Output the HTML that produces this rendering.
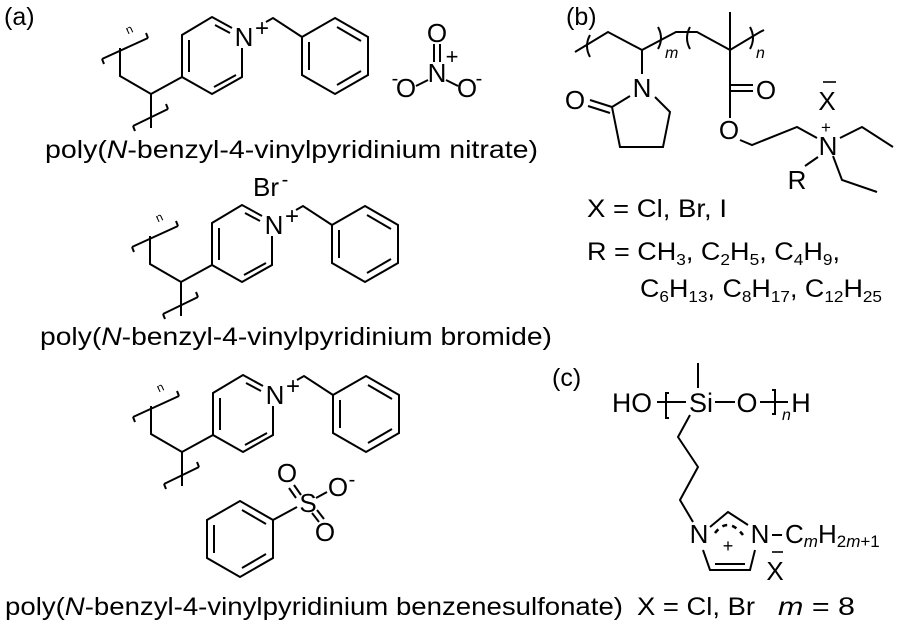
<!DOCTYPE html>
<html><head><meta charset="utf-8"><style>
html,body{margin:0;padding:0;background:#fff;}
svg{display:block;font-family:"Liberation Sans",Arial,sans-serif;}
</style></head><body>
<svg width="900" height="624" viewBox="0 0 900 624" xmlns="http://www.w3.org/2000/svg">
<defs>
<g id="pvp">
 <g fill="none" stroke="#000" stroke-width="2">
  <polyline points="232,28 212,17 182,35 182,77 212,94 242,77 242,48"/>
  <line x1="215" y1="25" x2="230" y2="33"/>
  <line x1="189" y1="40" x2="189" y2="72"/>
  <line x1="214" y1="87" x2="236" y2="75"/>
  <polyline points="182,77 151,94 120,76 120,48"/>
  <line x1="102" y1="59" x2="148" y2="38"/>
  <line x1="102" y1="59" x2="104" y2="64"/>
  <line x1="148" y1="38" x2="146" y2="33"/>
  <line x1="151" y1="94" x2="151" y2="128"/>
  <line x1="133" y1="126" x2="168" y2="109"/>
  <line x1="133" y1="126" x2="135" y2="131"/>
  <line x1="168" y1="109" x2="166" y2="104"/>
  <polyline points="266,22 273,18 302,37"/>
  <polygon points="335,18 368,37 368,75 335,94 302,75 302,37"/>
  <line x1="337" y1="27" x2="361" y2="41"/>
  <line x1="309" y1="42" x2="309" y2="70"/>
  <line x1="337" y1="85" x2="361" y2="71"/>
 </g>
 <text x="244" y="46" font-size="26" text-anchor="middle">N</text>
 <text x="262" y="36" font-size="24" text-anchor="middle">+</text>
 <text x="126" y="34" font-size="12" transform="rotate(-25 128 30)">n</text>
</g>
</defs>

<text x="4" y="25" font-size="25">(a)</text>
<use href="#pvp"/>
<g stroke="#000" stroke-width="2">
 <line x1="434" y1="44" x2="434" y2="62"/>
 <line x1="440" y1="44" x2="440" y2="62"/>
 <line x1="428" y1="80" x2="416" y2="86"/>
 <line x1="446" y1="80" x2="458" y2="86"/>
</g>
<g font-size="26" text-anchor="middle">
<text x="437" y="42">O</text>
<text x="437" y="82">N</text>
<text x="406" y="97">O</text>
<text x="467" y="97">O</text>
</g>
<text x="452" y="64" font-size="22" text-anchor="middle">+</text>
<text x="395" y="85" font-size="20" text-anchor="middle">-</text>
<text x="479" y="85" font-size="20" text-anchor="middle">-</text>
<text x="45" y="158" font-size="25" textLength="493" lengthAdjust="spacingAndGlyphs">poly(<tspan font-style="italic">N</tspan>-benzyl-4-vinylpyridinium nitrate)</text>

<text x="253" y="196" font-size="26">Br</text>
<text x="285" y="186" font-size="20" text-anchor="middle">-</text>
<use href="#pvp" transform="translate(30,188)"/>
<text x="40" y="345" font-size="25" textLength="512" lengthAdjust="spacingAndGlyphs">poly(<tspan font-style="italic">N</tspan>-benzyl-4-vinylpyridinium bromide)</text>

<use href="#pvp" transform="translate(31,358)"/>
<g fill="none" stroke="#000" stroke-width="2">
 <polygon points="240,501 273,520 273,558 240,577 207,558 207,520"/>
 <line x1="242" y1="510" x2="266" y2="524"/>
 <line x1="214" y1="525" x2="214" y2="553"/>
 <line x1="242" y1="568" x2="266" y2="554"/>
 <line x1="273" y1="520" x2="297" y2="507"/>
 <line x1="294" y1="485" x2="301" y2="495"/>
 <line x1="289" y1="488" x2="296" y2="498"/>
 <line x1="316" y1="498" x2="327" y2="492"/>
 <line x1="312" y1="513" x2="319" y2="522"/>
 <line x1="317" y1="510" x2="324" y2="519"/>
</g>
<g font-size="26" text-anchor="middle">
<text x="308" y="512">S</text>
<text x="287" y="482">O</text>
<text x="338" y="496">O</text>
<text x="325" y="541">O</text>
</g>
<text x="352" y="486" font-size="20" text-anchor="middle">-</text>
<text x="5" y="615" font-size="25" textLength="618" lengthAdjust="spacingAndGlyphs">poly(<tspan font-style="italic">N</tspan>-benzyl-4-vinylpyridinium benzenesulfonate)</text>

<!-- (b) -->
<text x="566" y="25" font-size="25">(b)</text>
<g fill="none" stroke="#000" stroke-width="2">
 <polyline points="575,52 608,32 642,50 676,32 697,32 730,50 760,32 764,30"/>
 <path d="M590,35 Q584,46 590,57"/>
 <path d="M658,27 Q664,38 658,49"/>
 <path d="M690,27 Q684,38 690,49"/>
 <path d="M750,27 Q756,38 750,49"/>
 <line x1="730" y1="50" x2="730" y2="12"/>
 <line x1="642" y1="50" x2="642" y2="74"/>
 <polyline points="630,96 612,107 620,147 663,147 670,112 655,97"/>
 <line x1="612" y1="107" x2="590" y2="100"/>
 <line x1="610" y1="113" x2="588" y2="106"/>
 <line x1="730" y1="50" x2="730" y2="118"/>
 <line x1="730" y1="85" x2="753" y2="85"/>
 <line x1="730" y1="91" x2="753" y2="91"/>
 <polyline points="740,140 752,145 797,127 817,138"/>
 <polyline points="840,138 862,127 893,147"/>
 <polyline points="833,156 842,180 877,192"/>
 <line x1="818" y1="157" x2="805" y2="166"/>
</g>
<text x="665" y="58" font-size="16" font-style="italic">m</text>
<text x="756" y="58" font-size="16" font-style="italic">n</text>
<g font-size="26" text-anchor="middle">
<text x="642" y="97">N</text>
<text x="575" y="109">O</text>
<text x="766" y="99">O</text>
<text x="729" y="139">O</text>
<text x="828" y="155">N</text>
<text x="827" y="110">X</text>
<text x="797" y="189">R</text>
</g>
<text x="826" y="133" font-size="17" text-anchor="middle">+</text>
<line x1="823" y1="82" x2="836" y2="82" stroke="#000" stroke-width="1.6"/>
<text x="587" y="217" font-size="25" textLength="140" lengthAdjust="spacingAndGlyphs">X = Cl, Br, I</text>
<text x="587" y="260" font-size="25" textLength="253" lengthAdjust="spacingAndGlyphs">R = CH<tspan font-size="16" dy="5">3</tspan><tspan dy="-5">, C</tspan><tspan font-size="16" dy="5">2</tspan><tspan dy="-5">H</tspan><tspan font-size="16" dy="5">5</tspan><tspan dy="-5">, C</tspan><tspan font-size="16" dy="5">4</tspan><tspan dy="-5">H</tspan><tspan font-size="16" dy="5">9</tspan><tspan dy="-5">,</tspan></text>
<text x="640" y="297" font-size="25" textLength="242" lengthAdjust="spacingAndGlyphs">C<tspan font-size="16" dy="5">6</tspan><tspan dy="-5">H</tspan><tspan font-size="16" dy="5">13</tspan><tspan dy="-5">, C</tspan><tspan font-size="16" dy="5">8</tspan><tspan dy="-5">H</tspan><tspan font-size="16" dy="5">17</tspan><tspan dy="-5">, C</tspan><tspan font-size="16" dy="5">12</tspan><tspan dy="-5">H</tspan><tspan font-size="16" dy="5">25</tspan></text>

<!-- (c) -->
<text x="552" y="386" font-size="25">(c)</text>
<text x="612" y="412" font-size="27" textLength="40" lengthAdjust="spacingAndGlyphs">HO</text>
<text x="701" y="412" font-size="27" text-anchor="middle">Si</text>
<text x="747" y="412" font-size="27" text-anchor="middle">O</text>
<text x="801" y="412" font-size="27" text-anchor="middle">H</text>
<text x="782" y="420" font-size="16" font-style="italic">n</text>
<g fill="none" stroke="#000" stroke-width="2">
 <line x1="698" y1="363" x2="698" y2="388"/>
 <line x1="657" y1="402" x2="686" y2="402"/>
 <line x1="715" y1="402" x2="735" y2="402"/>
 <line x1="760" y1="402" x2="788" y2="402"/>
 <polyline points="669,393 666,393 666,418 669,418"/>
 <polyline points="772,390 775,390 775,414 772,414"/>
 <polyline points="690,415 678,437 698,467 680,500 693,522"/>
 <polyline points="710,527 728,512 748,525"/>
 <polyline points="703,550 710,570 750,570 755,550"/>
 <line x1="715" y1="564" x2="745" y2="564"/>
 <path d="M715,533 Q728,516 743,535" stroke-dasharray="5,5" stroke-width="2.6"/>
 <line x1="772" y1="535" x2="782" y2="535"/>
</g>
<g font-size="26" text-anchor="middle">
<text x="699" y="543">N</text>
<text x="760" y="543">N</text>
<text x="775" y="580">X</text>
</g>
<text x="728" y="552" font-size="18" text-anchor="middle">+</text>
<text x="785" y="543" font-size="26">C<tspan font-size="17" font-style="italic" dy="4">m</tspan><tspan dy="-4">H</tspan><tspan font-size="17" dy="4">2<tspan font-style="italic">m</tspan>+1</tspan></text>
<line x1="772" y1="552" x2="783" y2="552" stroke="#000" stroke-width="1.6"/>
<text x="637" y="615" font-size="25" textLength="118" lengthAdjust="spacingAndGlyphs">X = Cl, Br</text>
<text x="778" y="615" font-size="25" textLength="77" lengthAdjust="spacingAndGlyphs"><tspan font-style="italic">m</tspan> = 8</text>
</svg>
</body></html>
